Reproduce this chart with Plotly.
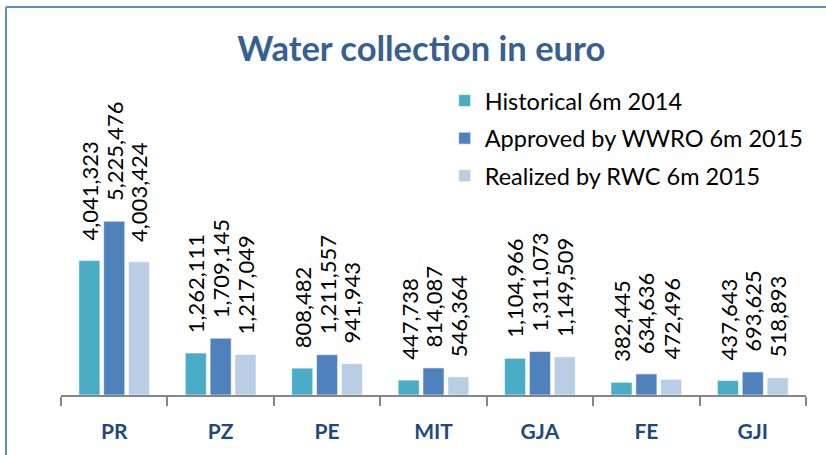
"""
Water collection in euro - grouped bar chart
"""

import plotly.graph_objects as go

# Data
categories = ["PR", "PZ", "PE", "MIT", "GJA", "FE", "GJI"]
series_names = [
    "Historical 6m 2014",
    "Approved by WWRO 6m 2015",
    "Realized by RWC 6m 2015",
]
historical_2014 = [4041323, 1262111, 808482, 447738, 1104966, 382445, 437643]
approved_2015 = [5225476, 1709145, 1211557, 814087, 1311073, 634636, 693625]
realized_2015 = [4003424, 1217049, 941943, 546364, 1149509, 472496, 518893]

series_values = [historical_2014, approved_2015, realized_2015]
colors = ["#4BACC6", "#4F81BD", "#B9CDE5"]

FONT = "Lato"
W, H = 826, 455
M_L, M_R, M_T, M_B = 61, 20, 91, 49
BARGAP = 0.3

fig = go.Figure()

for i, (name, vals) in enumerate(zip(series_names, series_values)):
    fig.add_trace(go.Bar(
        x=categories,
        y=vals,
        name=name,
        legendgroup=name,
        marker=dict(color=colors[i], line=dict(color="rgba(255,255,255,0.6)", width=1)),
        hoverinfo="x+y+name",
    ))

# rotated value labels above each bar
slot = (1 - BARGAP) / len(series_values)
annotations = []
for i, vals in enumerate(series_values):
    for j, v in enumerate(vals):
        annotations.append(dict(
            x=j + (i - 1) * slot,
            y=v,
            xref="x", yref="y",
            text=f"{v:,}",
            textangle=-90,
            showarrow=False,
            xanchor="center",
            yanchor="bottom",
            yshift=18,
            font=dict(family=FONT, size=22, color="black"),
        ))

# outer chart border (only top and left edges fall inside the window)
plot_w = W - M_L - M_R
plot_h = H - M_T - M_B
bx = (6 - M_L) / plot_w
by = (H - M_B - 4) / plot_h
border = dict(color="#5B8BC9", width=2)

fig.update_layout(
    width=W,
    height=H,
    margin=dict(l=M_L, r=M_R, t=M_T, b=M_B),
    paper_bgcolor="white",
    plot_bgcolor="white",
    barmode="group",
    bargap=BARGAP,
    bargroupgap=0.15,
    title=dict(
        text="<b>Water collection in euro</b>",
        x=0.51, xanchor="center",
        y=0.893, yanchor="middle",
        font=dict(family=FONT, size=34.5, color="#376092"),
    ),
    legend=dict(
        x=0.515, xanchor="left",
        y=1.04, yanchor="top",
        font=dict(family=FONT, size=23.5, color="black"),
        tracegroupgap=4,
        bgcolor="rgba(0,0,0,0)",
    ),
    xaxis=dict(
        type="category",
        showline=True,
        linecolor="#868686",
        linewidth=1.5,
        ticks="outside",
        tickson="boundaries",
        ticklen=9,
        tickcolor="#868686",
        tickwidth=1.5,
        ticklabelstandoff=17,
        tickfont=dict(family=FONT, size=21, color="#1F497D", weight="bold"),
        showgrid=False,
    ),
    yaxis=dict(
        range=[0, 9.14e6],
        visible=False,
        showgrid=False,
        zeroline=False,
    ),
    annotations=annotations,
    shapes=[
        dict(type="line", xref="paper", yref="paper",
             x0=bx, x1=1.2, y0=by, y1=by, line=border),
        dict(type="line", xref="paper", yref="paper",
             x0=bx, x1=bx, y0=-0.5, y1=by, line=border),
    ],
)

# drop the default page margin so the figure sits at the window's corner
fig.write_html(
    "out.html",
    config={"displayModeBar": False},
    post_script="document.body.style.margin='0';",
)
